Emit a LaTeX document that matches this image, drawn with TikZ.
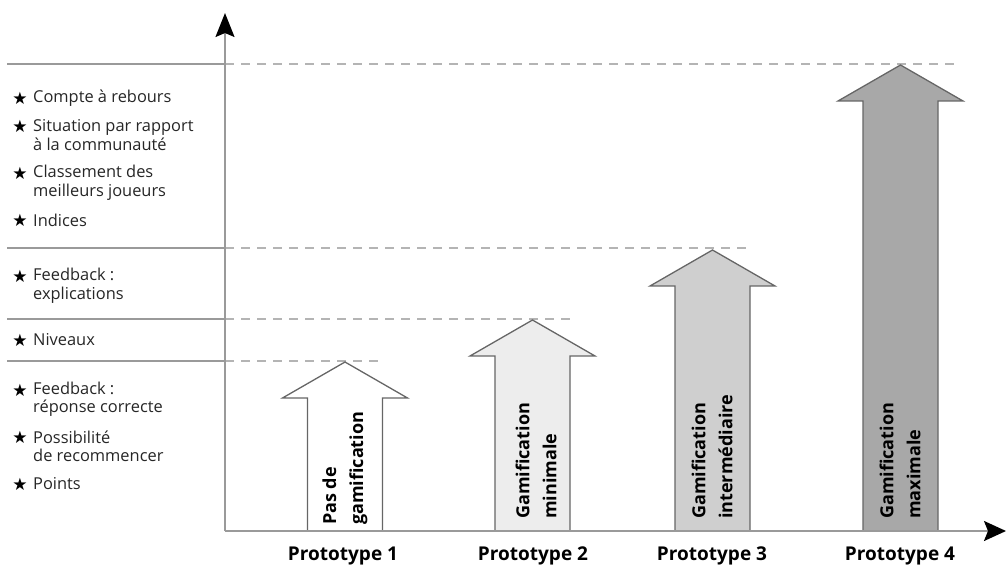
\documentclass[tikz,border=0pt]{standalone}
\usepackage{fontspec}
\setmainfont{Open Sans}
\newfontfamily\symfont{DejaVu Sans}
\usetikzlibrary{arrows.meta}
\definecolor{axisgray}{HTML}{9A9A9A}
\definecolor{dashgray}{HTML}{B4B4B4}
\definecolor{edgegray}{HTML}{666666}
\definecolor{fillA}{HTML}{FFFFFF}
\definecolor{fillB}{HTML}{EDEDED}
\definecolor{fillC}{HTML}{CFCFCF}
\definecolor{fillD}{HTML}{A8A8A8}
\tikzset{
 axisline/.style={draw=axisgray, line width=2pt},
 sepline/.style={draw=axisgray, line width=1.5pt},
 levelline/.style={draw=dashgray, line width=1.3pt, dash pattern=on 9pt off 7pt},
 bigarrow/.style={draw=edgegray, line width=1.3pt, line join=miter},
 item/.style={anchor=west, inner sep=0pt, font=\fontsize{16.4}{18.5}\selectfont, align=left, text=black!85},
 staritem/.style={inner sep=0pt, font=\symfont\fontsize{17}{17}\selectfont, text=black},
 arrowlabel/.style={rotate=90, anchor=west, inner sep=0pt, align=left, font=\bfseries\fontsize{18}{27}\selectfont},
 protolabel/.style={inner sep=0pt, font=\bfseries\fontsize{19}{22}\selectfont}
}
\newcommand\gamarrow[4]{%
  \draw[bigarrow, fill=#3] (#1-37.5,531) -- (#1-37.5,#2+36) -- (#1-62.5,#2+36) -- (#1,#2) -- (#1+62.5,#2+36) -- (#1+37.5,#2+36) -- (#1+37.5,531);
  \coordinate (#4) at (#1,#2);}
\begin{document}
\begin{tikzpicture}[x=1pt,y=-1pt]
\useasboundingbox (0,0) rectangle (1007,569);

% coordinates of axes
\coordinate (O) at (225,531);
\coordinate (ytop) at (225,13);
\coordinate (xend) at (1006,531);

% level lines (left solid separators)
\coordinate (s1l) at (7,64);   \coordinate (s1r) at (225,64);
\coordinate (s2l) at (7,248);  \coordinate (s2r) at (225,248);
\coordinate (s3l) at (7,319);  \coordinate (s3r) at (225,319);
\coordinate (s4l) at (7,361);  \coordinate (s4r) at (225,361);
\draw[sepline] (s1l) -- (s1r);
\draw[sepline] (s2l) -- (s2r);
\draw[sepline] (s3l) -- (s3r);
\draw[sepline] (s4l) -- (s4r);

% dashed level lines
\coordinate (d1) at (955,64);
\coordinate (d2) at (752,248);
\coordinate (d3) at (570,319);
\coordinate (d4) at (385,361);
\draw[levelline] (s1r) -- (d1);
\draw[levelline] (s2r) -- (d2);
\draw[levelline] (s3r) -- (d3);
\draw[levelline] (s4r) -- (d4);

% big arrows
\gamarrow{345}{362}{fillA}{t1}
\gamarrow{532.5}{320}{fillB}{t2}
\gamarrow{712.5}{250}{fillC}{t3}
\gamarrow{900.5}{65}{fillD}{t4}

% axes
\draw[axisline, -{Stealth[length=24pt,width=19pt,inset=4pt,color=black]}] (O) -- (ytop);
\draw[axisline, -{Stealth[length=22pt,width=20pt,inset=4pt,color=black]}] (O) -- (xend);

% arrow labels
\node[arrowlabel] (l1) at (345,525) {Pas de\\gamification};
\node[arrowlabel] (l2) at (536,519) {Gamification\\minimale};
\node[arrowlabel] (l3) at (712,519) {Gamification\\intermédiaire};
\node[arrowlabel] (l4) at (900,519) {Gamification\\maximale};

% prototype labels
\node[protolabel] (p1) at (343,556) {Prototype 1};
\node[protolabel] (p2) at (533,556) {Prototype 2};
\node[protolabel] (p3) at (712,556) {Prototype 3};
\node[protolabel] (p4) at (900,556) {Prototype 4};

% left items
\node[staritem] (st1) at (20,98) {★};
\node[item] (i1) at (33,98) {Compte à rebours};
\node[staritem] (st2) at (20,126) {★};
\node[item] (i2) at (33,135) {Situation par rapport\\à la communauté};
\node[staritem] (st3) at (20,173) {★};
\node[item] (i3) at (33,182.5) {Classement des\\meilleurs joueurs};
\node[staritem] (st4) at (20,220) {★};
\node[item] (i4) at (33,220) {Indices};
\node[staritem] (st5) at (20,276) {★};
\node[item] (i5) at (33,285.5) {Feedback :\\explications};
\node[staritem] (st6) at (20,340) {★};
\node[item] (i6) at (33,340) {Niveaux};
\node[staritem] (st7) at (20,390) {★};
\node[item] (i7) at (33,399) {Feedback :\\réponse correcte};
\node[staritem] (st8) at (20,437) {★};
\node[item] (i8) at (33,446.5) {Possibilité\\de recommencer};
\node[staritem] (st9) at (20,484) {★};
\node[item] (i9) at (33,484) {Points};
\end{tikzpicture}
\end{document}
